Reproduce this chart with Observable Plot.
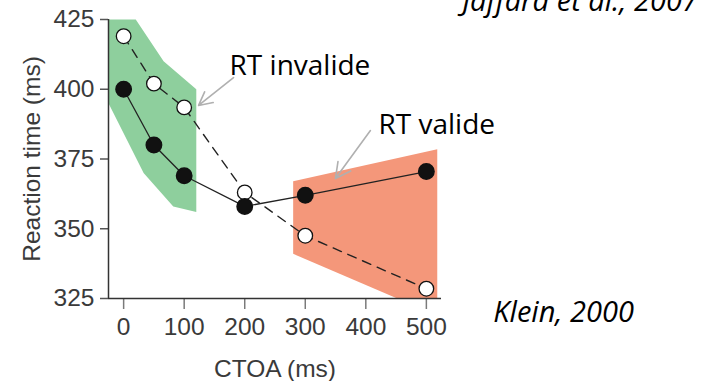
<!DOCTYPE html>
<html>
<head>
<meta charset="utf-8">
<script src="https://cdn.jsdelivr.net/npm/d3@7"></script>
<script src="https://cdn.jsdelivr.net/npm/@observablehq/plot@0.6"></script>
<style>
  html, body { margin: 0; padding: 0; background: #fff; }
  #chart svg { display: block; }
</style>
</head>
<body>
<div id="chart"></div>
<script>
// Cue-target onset asynchrony (ms) and mean reaction times (ms)
const ctoa = [0, 50, 100, 200, 300, 500];
const rtValid = [400, 380, 369, 358, 362, 370.5];
const rtInvalid = [419, 402, 393.5, 363, 347.5, 328.5];

// Shaded regions: early facilitation (green) and inhibition of return (orange)
const greenX = [-25, 20, 66, 120, 120, 82, 33, -25];
const greenY = [425, 425, 410, 400, 356, 358, 370, 395];
const orangeX = [280, 518, 518, 452, 280];
const orangeY = [367, 378.5, 325, 325, 341];

// Axis ticks
const xTicks = [0, 100, 200, 300, 400, 500];
const yTicks = [325, 350, 375, 400, 425];

// Annotations
const arrowLabels = ["RT invalide", "RT valide"];
const labelX = [175, 421];
const labelY = [405, 384];
const arrowX1 = [181.5, 407.6];
const arrowY1 = [404.2, 385.2];
const arrowX2 = [123.8, 349.8];
const arrowY2 = [394.2, 368];
const refs = ["Jaffard et al., 2007", "Klein, 2000"];
const refX = [559.4, 610.6];
const refY = [428.2, 316.4];

const valid = ctoa.map((x, i) => ({x, y: rtValid[i]}));
const invalid = ctoa.map((x, i) => ({x, y: rtInvalid[i]}));
const green = greenX.map((x, i) => ({x, y: greenY[i]}));
const orange = orangeX.map((x, i) => ({x, y: orangeY[i]}));
const labels = arrowLabels.map((t, i) => ({t, x: labelX[i], y: labelY[i]}));
const arrows = arrowX1.map((x1, i) => ({x1, y1: arrowY1[i], x2: arrowX2[i], y2: arrowY2[i]}));
const refsData = refs.map((t, i) => ({t, x: refX[i], y: refY[i]}));

const axisFont = "Liberation Sans, Arial, sans-serif";
const noteFont = "Open Sans, Noto Sans, sans-serif";

const plot = Plot.plot({
  width: 723,
  height: 381,
  marginLeft: 108,
  marginRight: 282,
  marginTop: 19,
  marginBottom: 83,
  style: {background: "#fff", overflow: "visible"},
  x: {domain: [-25, 525]},
  y: {domain: [325, 425]},
  marks: [
    Plot.line(green, {x: "x", y: "y", curve: "linear-closed", fill: "#8ecf9d", stroke: "none"}),
    Plot.line(orange, {x: "x", y: "y", curve: "linear-closed", fill: "#f4977a", stroke: "none"}),
    Plot.axisX({
      ticks: xTicks, tickSize: 11, tickPadding: 8, stroke: "#7a7a7a", strokeWidth: 1.5,
      fontSize: 24.5, fontFamily: axisFont, fill: "#3a3a3a",
      label: "CTOA (ms)", labelAnchor: "center", labelOffset: 78, labelArrow: "none"
    }),
    Plot.axisY({
      ticks: yTicks, tickSize: 8, tickPadding: 6, stroke: "#555", strokeWidth: 1.5,
      fontSize: 24.5, fontFamily: axisFont, fill: "#3a3a3a",
      label: "Reaction time (ms)", labelAnchor: "center", labelOffset: 86, labelArrow: "none"
    }),
    Plot.ruleX([-25], {stroke: "#333", strokeWidth: 1.5}),
    Plot.ruleY([325], {stroke: "#333", strokeWidth: 1.5}),
    Plot.line(invalid, {x: "x", y: "y", stroke: "#222", strokeWidth: 1.4, strokeDasharray: "9,7"}),
    Plot.line(valid, {x: "x", y: "y", stroke: "#222", strokeWidth: 1.3}),
    Plot.dot(invalid, {x: "x", y: "y", r: 7.3, fill: "#fff", stroke: "#111", strokeWidth: 1.3}),
    Plot.dot(valid, {x: "x", y: "y", r: 7.7, fill: "#111", stroke: "#111"}),
    Plot.arrow(arrows, {x1: "x1", y1: "y1", x2: "x2", y2: "y2", stroke: "#b0b0b0", strokeWidth: 1.6, headLength: 16, headAngle: 55}),
    Plot.text(labels, {x: "x", y: "y", text: "t", textAnchor: "start", lineAnchor: "bottom", fontSize: 28, fontFamily: noteFont, fill: "#000"}),
    Plot.text(refsData, {x: "x", y: "y", text: "t", textAnchor: "start", lineAnchor: "bottom", fontSize: 29, fontStyle: "italic", fontFamily: noteFont, fill: "#000"})
  ]
});
document.getElementById("chart").appendChild(plot);
</script>
</body>
</html>
